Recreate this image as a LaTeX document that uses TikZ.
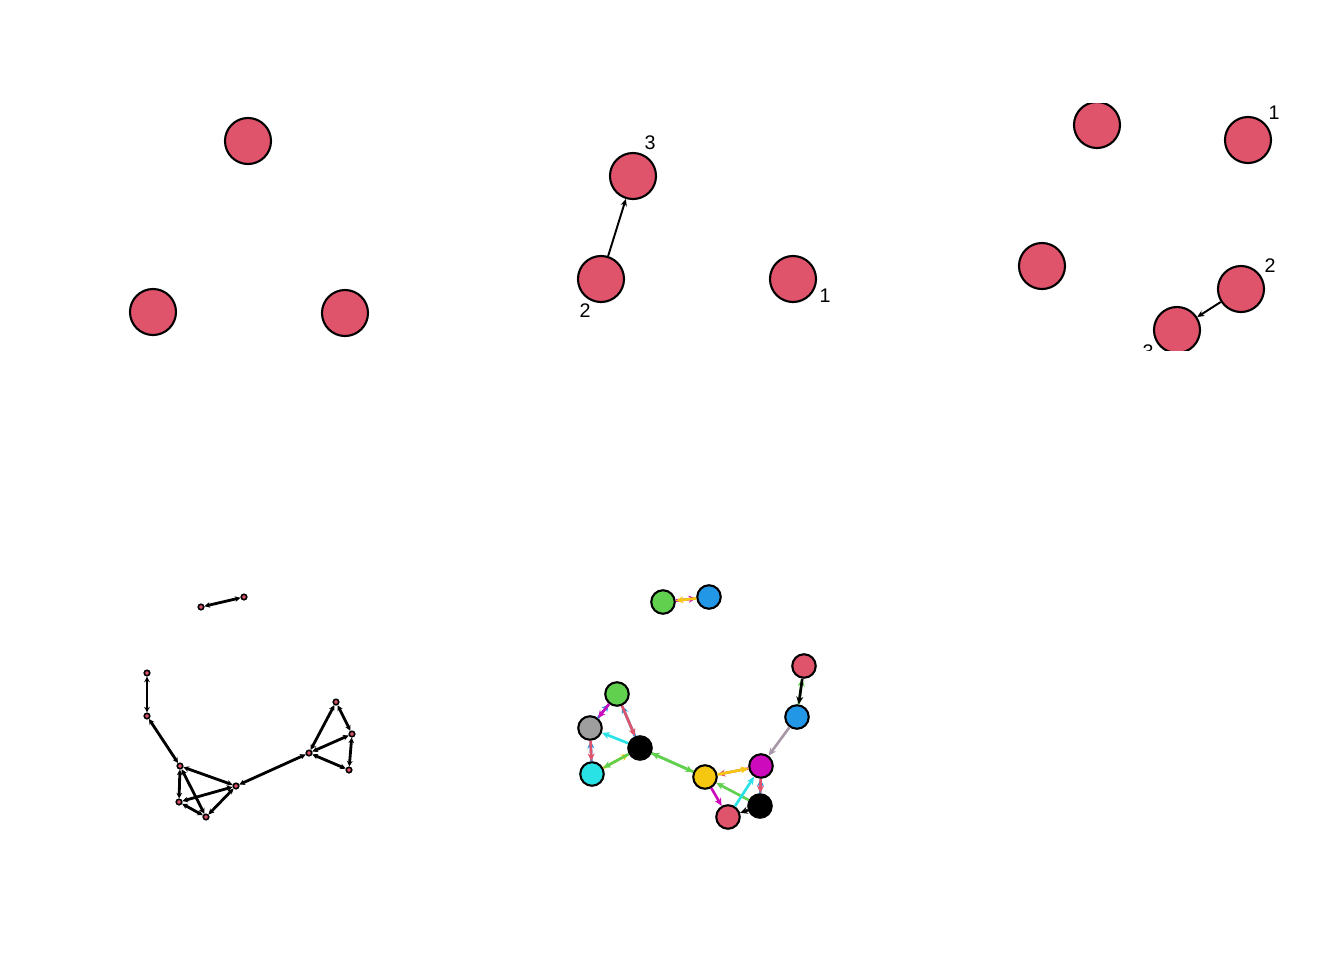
\documentclass[tikz,border=0pt]{standalone}
\usepackage{fontspec}
\setmainfont{Liberation Sans}
\usetikzlibrary{arrows.meta}
\definecolor{pred}{HTML}{DF536B}
\definecolor{pgreen}{HTML}{61D04F}
\definecolor{pblue}{HTML}{2297E6}
\definecolor{pcyan}{HTML}{28E2E5}
\definecolor{pmagenta}{HTML}{CD0BBC}
\definecolor{pyellow}{HTML}{F5C710}
\definecolor{pgray}{HTML}{9E9E9E}
\definecolor{plilac}{HTML}{A898A8}

\begin{document}
\begin{tikzpicture}[
  x=0.01cm, y=-0.01cm,
  vbig/.style={circle, draw, fill=pred, line width=0.6pt, minimum size=0.46cm, inner sep=0pt},
  vmid/.style={circle, draw, line width=0.6pt, minimum size=0.235cm, inner sep=0pt},
  vsmall/.style={circle, draw, fill=pred, line width=0.45pt, minimum size=0.055cm, inner sep=0pt},
  vlab/.style={font=\fontsize{5.6}{6}\selectfont, inner sep=0pt},
  link/.style={-{Stealth[length=2pt,width=1.8pt]}, line width=0.55pt},
  dlink/.style={{Stealth[length=1.6pt,width=1.6pt]}-{Stealth[length=1.6pt,width=1.6pt]}, line width=0.8pt},
  clink/.style={-{Stealth[length=2.2pt,width=2pt]}, line width=0.75pt}]

  \useasboundingbox (0,0) rectangle (1344,960);

  % top left
  \node[vbig] (A1) at (248,141) {};
  \node[vbig] (A2) at (153,312) {};
  \node[vbig] (A3) at (345,313) {};

  % top middle
  \node[vbig] (B3) at (633,176) {};
  \node[vbig] (B2) at (601,279) {};
  \node[vbig] (B1) at (793,279) {};
  \node[vlab] (B3lab) at (650,143) {3};
  \node[vlab] (B2lab) at (585,311) {2};
  \node[vlab] (B1lab) at (825,296) {1};
  \draw[link] (B2) -- (B3);

  % top right, clipped
  \begin{scope}
    \clip (950,103) rectangle (1344,350);
    \node[vbig] (C0) at (1097,125) {};
    \node[vbig] (C1) at (1248,140) {};
    \node[vbig] (C4) at (1042,266) {};
    \node[vbig] (C2) at (1241,289) {};
    \node[vbig] (C3) at (1177,330) {};
    \node[vlab] (C1lab) at (1274,113) {1};
    \node[vlab] (C2lab) at (1270,266) {2};
    \node[vlab] (C3lab) at (1148,352) {3};
    \draw[link] (C2) -- (C3);
  \end{scope}

  % bottom left
  \node[vsmall] (a) at (244,597) {};
  \node[vsmall] (b) at (201,607) {};
  \node[vsmall] (c) at (147,673) {};
  \node[vsmall] (d) at (147,716) {};
  \node[vsmall] (e) at (180,766) {};
  \node[vsmall] (f) at (236,786) {};
  \node[vsmall] (g) at (179,802) {};
  \node[vsmall] (h) at (206,817) {};
  \node[vsmall] (i) at (309,753) {};
  \node[vsmall] (j) at (336,702) {};
  \node[vsmall] (k) at (352,734) {};
  \node[vsmall] (l) at (349,770) {};
  \foreach \u/\v in {a/b, c/d, d/e, e/f, e/g, e/h, f/g, f/h, g/h, f/i, i/j, j/k, i/k, i/l, k/l}
    \draw[dlink] (\u) -- (\v);

  % bottom middle
  \node[vmid, fill=pgreen] (G1) at (663,602) {};
  \node[vmid, fill=pblue] (U1) at (709,597) {};
  \node[vmid, fill=pred] (R1) at (804,666) {};
  \node[vmid, fill=pblue] (U2) at (797,717) {};
  \node[vmid, fill=pgreen] (G2) at (617,694) {};
  \node[vmid, fill=pgray] (Y1) at (590,728) {};
  \node[vmid, fill=black] (K1) at (640,748) {};
  \node[vmid, fill=pcyan] (C5) at (592,774) {};
  \node[vmid, fill=pyellow] (Y2) at (705,777) {};
  \node[vmid, fill=pmagenta] (M1) at (761,766) {};
  \node[vmid, fill=black] (K2) at (760,806) {};
  \node[vmid, fill=pred] (R2) at (728,817) {};

  \draw[clink, pmagenta] (G1) -- (U1);
  \draw[clink, pyellow] (U1) -- (G1);
  \draw[clink, pgreen] (U2) -- (R1);
  \draw[clink, black] (R1) -- (U2);
  \draw[clink, plilac] (U2) -- (M1);
  \draw[clink, pblue] (Y1) -- (G2);
  \draw[clink, pmagenta] (G2) -- (Y1);
  \draw[clink, pblue] (K1) -- (G2);
  \draw[clink, pred] (G2) -- (K1);
  \draw[clink, pcyan] (K1) -- (Y1);
  \draw[clink, pblue] (C5) -- (Y1);
  \draw[clink, pred] (Y1) -- (C5);
  \draw[clink, pyellow] (C5) -- (K1);
  \draw[clink, pgreen] (K1) -- (C5);
  \draw[clink, pgreen] (Y2) -- (K1);
  \draw[clink, pgreen] (K1) -- (Y2);
  \draw[clink, pred] (M1) -- (Y2);
  \draw[clink, pyellow] (Y2) -- (M1);
  \draw[clink, pmagenta] (Y2) -- (R2);
  \draw[clink, pgreen] (K2) -- (Y2);
  \draw[clink, pcyan] (R2) -- (M1);
  \draw[clink, pblue] (K2) -- (M1);
  \draw[clink, pred] (M1) -- (K2);
  \draw[clink, black] (K2) -- (R2);
\end{tikzpicture}
\end{document}
